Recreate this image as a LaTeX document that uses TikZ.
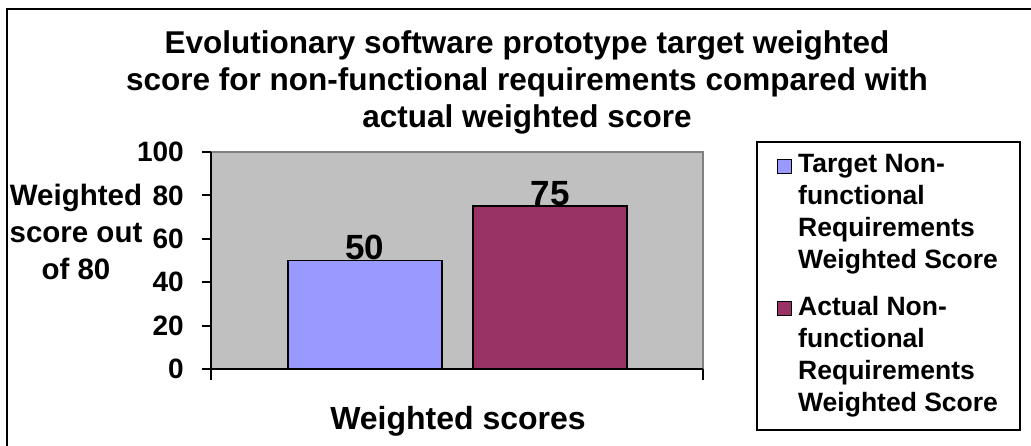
\documentclass[tikz,border=0pt]{standalone}
\usepackage{fontspec}
\setmainfont{Liberation Sans}
\usepackage{tikz}
\usetikzlibrary{positioning}
\definecolor{plotgray}{RGB}{192,192,192}
\definecolor{edgegray}{RGB}{128,128,128}
\definecolor{targetblue}{RGB}{153,153,255}
\definecolor{actualred}{RGB}{153,51,102}
\tikzstyle{axis}=[black,line width=2pt]
\tikzstyle{bar}=[draw=black,line width=1.6pt]
\tikzstyle{ticklabel}=[anchor=east,inner sep=0pt,font=\fontsize{28}{30}\selectfont\bfseries]
\tikzstyle{barlabel}=[anchor=base,inner sep=0pt,font=\fontsize{35}{38}\selectfont\bfseries]
\tikzstyle{legtext}=[anchor=north west,inner sep=0pt,align=left,
                     font=\fontsize{26.5}{32}\selectfont\bfseries]
\tikzstyle{swatch}=[draw=black,line width=1.2pt,minimum size=14pt,inner sep=0pt]

\begin{document}
\begin{tikzpicture}[x=1pt,y=-1pt]
	\useasboundingbox (0,0) rectangle (1031,446);

	% chart frame
	\draw[line width=2pt] (7,446) -- (7,9) -- (1031,9);

	% title
	\node[align=center,anchor=north,inner sep=0pt,
	      font=\fontsize{31.5}{37}\selectfont\bfseries] (title) at (527,30)
	      {Evolutionary software prototype target weighted\\
	       score for non-functional requirements compared with\\
	       actual weighted score};

	% plot area
	\fill[plotgray] (211,152) rectangle (703,369);
	\draw[edgegray,line width=1.5pt] (211,152) -- (703,152) -- (703,369);
	\draw[axis] (211,152) -- (211,369) -- (703,369);
	\draw[axis] (211,369) -- (211,380);
	\draw[axis] (703,369) -- (703,380);
	\foreach \v in {0,20,...,100} {
		\draw[axis] (202,369-2.17*\v) -- (211,369-2.17*\v);
		\node[ticklabel] (t\v) at (184,369-2.17*\v) {\v};
	}

	% bars
	\draw[bar,fill=targetblue] (288,369-2.17*50) rectangle (442,369);
	\draw[bar,fill=actualred] (473,369-2.17*75) rectangle (627,369);
	\node[barlabel] (v50) at (365,369-2.17*50-1) {50};
	\node[barlabel] (v75) at (550,369-2.17*75-1) {75};

	% axis titles
	\node[align=center,inner sep=0pt,
	      font=\fontsize{29.5}{37}\selectfont\bfseries] (ytitle) at (76,232)
	      {Weighted\\score out\\of 80};
	\node[anchor=base,inner sep=0pt,
	      font=\fontsize{32}{36}\selectfont\bfseries] (xtitle) at (458,429)
	      {Weighted scores};

	% legend
	\draw[line width=1.6pt] (757,142) rectangle (1020,430);
	\node[legtext] (lt) at (798,154)
	      {Target Non-\\functional\\Requirements\\Weighted Score};
	\node[legtext] (la) at (798,296)
	      {Actual Non-\\functional\\Requirements\\Weighted Score};
	\node[swatch,fill=targetblue,left=6pt of lt.north west,anchor=north east,yshift=-5pt] (ls1) {};
	\node[swatch,fill=actualred,left=6pt of la.north west,anchor=north east,yshift=-5pt] (ls2) {};
\end{tikzpicture}
\end{document}
